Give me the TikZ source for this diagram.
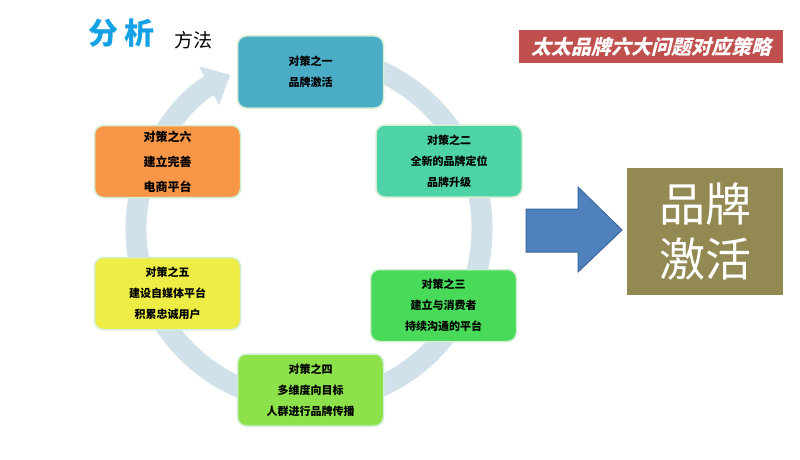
\documentclass[tikz,border=0pt]{standalone}
\usepackage{fontspec}
\setmainfont{Noto Sans CJK SC}
\newfontfamily\bannerfont[FakeSlant=0.25]{Noto Sans CJK SC}
\usepackage{tikz}
\usetikzlibrary{arrows.meta}
\definecolor{ring}{HTML}{D1E1EA}
\definecolor{edge}{HTML}{D3EFD3}
\definecolor{titleblue}{HTML}{14A2E4}
\definecolor{bannerred}{HTML}{C0504D}
\definecolor{arrowblue}{HTML}{4F81BD}
\definecolor{arrowedge}{HTML}{3A67A0}
\definecolor{olive}{HTML}{938953}
\definecolor{cA}{HTML}{4BACC6}
\definecolor{cB}{HTML}{4DD3A5}
\definecolor{cC}{HTML}{48DA58}
\definecolor{cD}{HTML}{8DE14B}
\definecolor{cE}{HTML}{EDED45}
\definecolor{cF}{HTML}{F79646}

\begin{document}
\begin{tikzpicture}[x=1pt,y=1pt,
	box/.style={rounded corners=9pt,draw=edge,line width=1.5pt,minimum width=146pt,minimum height=72pt,align=center,font=\bfseries\fontsize{11}{21}\selectfont}]
	\fill[white] (0,0) rectangle (800,459);
	
	\node[text=titleblue,font=\bfseries\fontsize{30}{30}\selectfont] (T) at (121,426) {分\hspace{6pt}析};
	\node[font=\fontsize{19}{19}\selectfont] (M) at (193,419) {方法};
	\node[fill=bannerred,text=white,minimum width=264pt,minimum height=33pt,font=\bannerfont\bfseries\fontsize{20}{20}\selectfont] (H) at (651,412.5) {太太品牌六大问题对应策略};
	
	% ring
	\draw[ring,line width=21pt,-{Triangle[length=24pt,width=42pt]},shift={(309,230)}] (75:173) arc[start angle=75,end angle=-243,radius=173];
	
	\node[box,fill=cA] (A) at (310.5,387) {对策之一\\品牌激活};
	\node[box,fill=cB] (B) at (449,298) {对策之二\\全新的品牌定位\\品牌升级};
	\node[box,fill=cC] (C) at (443.5,153.5) {对策之三\\建立与消费者\\持续沟通的平台};
	\node[box,fill=cD] (D) at (310.5,69) {对策之四\\多维度向目标\\人群进行品牌传播};
	\node[box,fill=cE] (E) at (167.5,165.5) {对策之五\\建设自媒体平台\\积累忠诚用户};
	\node[box,fill=cF,font=\bfseries\fontsize{12}{25}\selectfont] (F) at (167.5,297.5) {对策之六\\建立完善\\电商平台};
	
	\node[fill=olive,text=white,minimum width=156pt,minimum height=127pt,align=center,font=\fontsize{46}{55}\selectfont] (G) at (705,227.5) {品牌\\激活};
	
	\draw[fill=arrowblue,draw=arrowedge,line width=1pt] (526,207)--(578,207)--(578,187)--(622,229)--(578,272)--(578,250)--(526,250)--cycle;
\end{tikzpicture}
\end{document}
